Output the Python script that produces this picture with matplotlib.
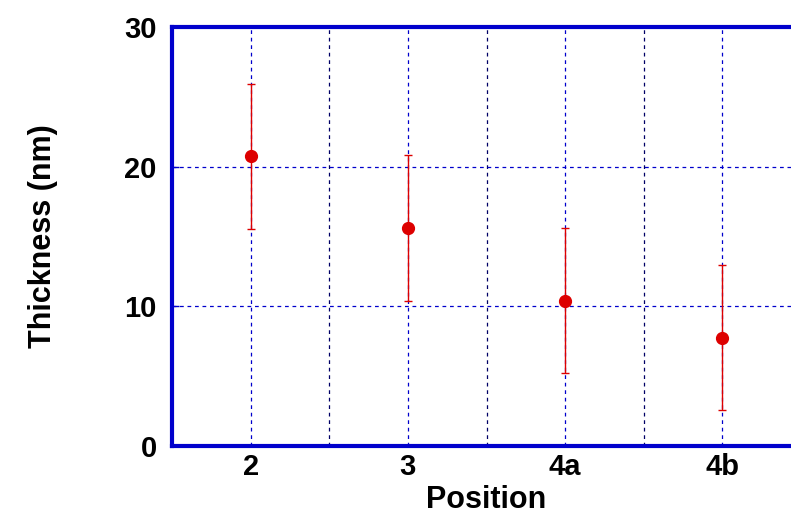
import matplotlib
matplotlib.use("Agg")
import matplotlib.pyplot as plt
import numpy as np

positions = ["2", "3", "4a", "4b"]
thickness = [20.75, 15.6, 10.4, 7.75]
errors = [5.2, 5.2, 5.2, 5.2]
yticks = [0, 10, 20, 30]

plt.rcParams['font.family'] = ['Liberation Sans', 'DejaVu Sans']
plt.rcParams['font.weight'] = 'bold'

fig = plt.figure(figsize=(7.91, 5.17), dpi=100)
ax = fig.add_axes([172/791, (517-446)/517, (801-172)/791, (446-27)/517])

x = np.arange(len(positions))
ax.errorbar(x, thickness, yerr=errors, fmt='o', color='#dd0000', ecolor='#dd0000',
            markersize=8.5, elinewidth=1, capsize=3, capthick=1, zorder=3)

ax.set_xlim(-0.5, len(positions) - 0.5)
ax.set_ylim(0, 30)
ax.set_xticks(x)
ax.set_xticklabels(positions)
ax.set_yticks(yticks)
ax.set_xticks(x[:-1] + 0.5, minor=True)

gc = '#0000cc'
ax.grid(True, which='major', axis='both', color=gc, linestyle=(0, (3, 3)), linewidth=0.9)
ax.grid(True, which='minor', axis='x', color='#000066', linestyle=(0, (3, 3)), linewidth=0.9)

for s in ax.spines.values():
    s.set_color(gc)
    s.set_linewidth(3)

ax.tick_params(axis='y', direction='in', length=5, color=gc, width=1, labelsize=21, pad=11)
ax.tick_params(axis='x', which='both', length=0, labelsize=21, pad=5)

for lab in ax.get_xticklabels() + ax.get_yticklabels():
    lab.set_fontweight('bold')

ax.set_xlabel('Position', fontsize=22, fontweight='bold', labelpad=3)
ax.set_ylabel('Thickness (nm)', fontsize=22, fontweight='bold', labelpad=48)

fig.savefig('out.png', dpi=100)
